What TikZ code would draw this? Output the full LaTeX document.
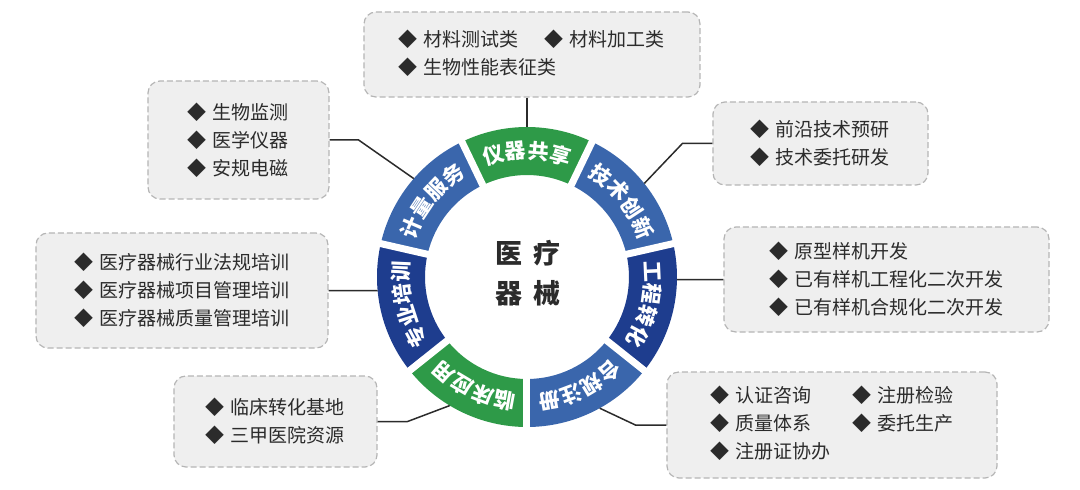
\documentclass[tikz,border=0pt]{standalone}
\usepackage{fontspec}
\setmainfont{Noto Sans CJK SC}
\definecolor{ringgreen}{HTML}{2E9A48}
\definecolor{ringblue}{HTML}{3A66AC}
\definecolor{ringnavy}{HTML}{1E3D8E}
\definecolor{boxfill}{HTML}{EFEFEF}
\definecolor{boxline}{HTML}{B5B5B5}
\definecolor{ink}{HTML}{2B2B2B}
\tikzset{
  infobox/.style={draw=boxline,fill=boxfill,dash pattern=on 6pt off 3pt,line width=1.2pt,
    rounded corners=12pt,align=left,text=ink,font=\fontsize{19}{28}\selectfont,inner sep=0pt},
  seglabel/.style={text=white,font=\fontsize{21}{21}\selectfont\bfseries,inner sep=0pt},
  link/.style={draw=ink,line width=1.5pt},
  gap/.style={white,line width=7pt},
}
\newcommand{\itm}{◆\hspace{6pt}}

\begin{document}
\begin{tikzpicture}[x=1pt,y=1pt]
\useasboundingbox (-527,-213) rectangle (553,277);
% ring
\fill[ringgreen] (64.29:102) arc[start angle=64.29,end angle=115.71,radius=102] -- (115.71:150) arc[start angle=115.71,end angle=64.29,radius=150] -- cycle;
\fill[ringblue] (12.86:102) arc[start angle=12.86,end angle=64.29,radius=102] -- (64.29:150) arc[start angle=64.29,end angle=12.86,radius=150] -- cycle;
\fill[ringnavy] (-38.57:102) arc[start angle=-38.57,end angle=12.86,radius=102] -- (12.86:150) arc[start angle=12.86,end angle=-38.57,radius=150] -- cycle;
\fill[ringblue] (-90:102) arc[start angle=-90,end angle=-38.57,radius=102] -- (-38.57:150) arc[start angle=-38.57,end angle=-90,radius=150] -- cycle;
\fill[ringgreen] (-141.43:102) arc[start angle=-141.43,end angle=-90,radius=102] -- (-90:150) arc[start angle=-90,end angle=-141.43,radius=150] -- cycle;
\fill[ringnavy] (-192.86:102) arc[start angle=-192.86,end angle=-141.43,radius=102] -- (-141.43:150) arc[start angle=-141.43,end angle=-192.86,radius=150] -- cycle;
\fill[ringblue] (115.71:102) arc[start angle=115.71,end angle=167.14,radius=102] -- (167.14:150) arc[start angle=167.14,end angle=115.71,radius=150] -- cycle;
\draw[gap] (115.71:98) -- (115.71:154);
\draw[gap] (64.29:98) -- (64.29:154);
\draw[gap] (12.86:98) -- (12.86:154);
\draw[gap] (-38.57:98) -- (-38.57:154);
\draw[gap] (-90:98) -- (-90:154);
\draw[gap] (-141.43:98) -- (-141.43:154);
\draw[gap] (167.14:98) -- (167.14:154);
% ring labels
\node[seglabel,rotate=15.45] (s1a) at (105.45:126) {仪};
\node[seglabel,rotate=5.15] (s1b) at (95.15:126) {器};
\node[seglabel,rotate=-5.15] (s1c) at (84.85:126) {共};
\node[seglabel,rotate=-15.45] (s1d) at (74.55:126) {享};
\node[seglabel,rotate=-35.98] (s2a) at (54.02:126) {技};
\node[seglabel,rotate=-46.28] (s2b) at (43.72:126) {术};
\node[seglabel,rotate=-56.58] (s2c) at (33.42:126) {创};
\node[seglabel,rotate=-66.88] (s2d) at (23.12:126) {新};
\node[seglabel,rotate=-87.41] (s3a) at (2.59:126) {工};
\node[seglabel,rotate=-97.71] (s3b) at (-7.71:126) {程};
\node[seglabel,rotate=-108.01] (s3c) at (-18.01:126) {转};
\node[seglabel,rotate=-118.31] (s3d) at (-28.31:126) {化};
\node[seglabel,rotate=-138.84] (s4a) at (-48.84:126) {合};
\node[seglabel,rotate=-149.14] (s4b) at (-59.14:126) {规};
\node[seglabel,rotate=-159.44] (s4c) at (-69.44:126) {注};
\node[seglabel,rotate=-169.74] (s4d) at (-79.74:126) {册};
\node[seglabel,rotate=-190.26] (s5a) at (-100.26:126) {临};
\node[seglabel,rotate=-200.56] (s5b) at (-110.56:126) {床};
\node[seglabel,rotate=-210.86] (s5c) at (-120.86:126) {应};
\node[seglabel,rotate=-221.16] (s5d) at (-131.16:126) {用};
\node[seglabel,rotate=-241.69] (s6a) at (-151.69:126) {专};
\node[seglabel,rotate=-251.99] (s6b) at (-161.99:126) {业};
\node[seglabel,rotate=-262.29] (s6c) at (-172.29:126) {培};
\node[seglabel,rotate=-272.59] (s6d) at (-182.59:126) {训};
\node[seglabel,rotate=66.88] (s7a) at (156.88:126) {计};
\node[seglabel,rotate=56.58] (s7b) at (146.58:126) {量};
\node[seglabel,rotate=46.28] (s7c) at (136.28:126) {服};
\node[seglabel,rotate=35.98] (s7d) at (125.98:126) {务};
% centre
\node[align=center,text=ink,font=\fontsize{27}{40}\selectfont\bfseries] (core) at (1,4) {医\hspace{11pt}疗\\器\hspace{11pt}械};
% boxes
\node[infobox,minimum width=336pt,minimum height=85pt] (share) at (5,222.5) {\begin{tabular}{@{}l@{\hspace{26pt}}l@{}}\itm 材料测试类 & \itm 材料加工类\\ \multicolumn{2}{@{}l@{}}{\itm 生物性能表征类}\end{tabular}};
\node[infobox,minimum width=181pt,minimum height=118pt] (meter) at (-288.5,137) {\itm 生物监测\\ \itm 医学仪器\\ \itm 安规电磁};
\node[infobox,minimum width=215pt,minimum height=83pt] (innov) at (293.5,133.5) {\itm 前沿技术预研\\ \itm 技术委托研发};
\node[infobox,minimum width=325pt,minimum height=105pt] (transf) at (359.5,-2.5) {\itm 原型样机开发\\ \itm 已有样机工程化二次开发\\ \itm 已有样机合规化二次开发};
\node[infobox,minimum width=292pt,minimum height=115pt] (train) at (-345,-13.5) {\itm 医疗器械行业法规培训\\ \itm 医疗器械项目管理培训\\ \itm 医疗器械质量管理培训};
\node[infobox,minimum width=203pt,minimum height=91pt] (clinic) at (-251.5,-144.5) {\itm 临床转化基地\\ \itm 三甲医院资源};
\node[infobox,minimum width=330pt,minimum height=106pt] (regist) at (305,-148) {\begin{tabular}{@{}l@{\hspace{41pt}}l@{}}\itm 认证咨询 & \itm 注册检验\\ \itm 质量体系 & \itm 委托生产\\ \multicolumn{2}{@{}l@{}}{\itm 注册证协办}\end{tabular}};
% connectors
\coordinate (share-pt) at (90:150);
\coordinate (meter-pt) at (139:150);
\coordinate (innov-pt) at (38.57:150);
\coordinate (transf-pt) at (-1:150);
\coordinate (train-pt) at (185.2:150);
\coordinate (clinic-pt) at (-121:150);
\coordinate (regist-pt) at (-61:150);
\draw[link] (share-pt |- share.south) -- (share-pt);
\draw[link] (meter.east) -- ++(29,0) -- (meter-pt);
\draw[link] (innov.west) -- ++(-30,0) -- (innov-pt);
\draw[link] (transf.west) -- (transf-pt);
\draw[link] (train.east) -- (train-pt);
\draw[link] (clinic.east) -- ++(30,0) -- (clinic-pt);
\draw[link] (regist.west) -- ++(-31,0) -- (regist-pt);
\end{tikzpicture}
\end{document}
